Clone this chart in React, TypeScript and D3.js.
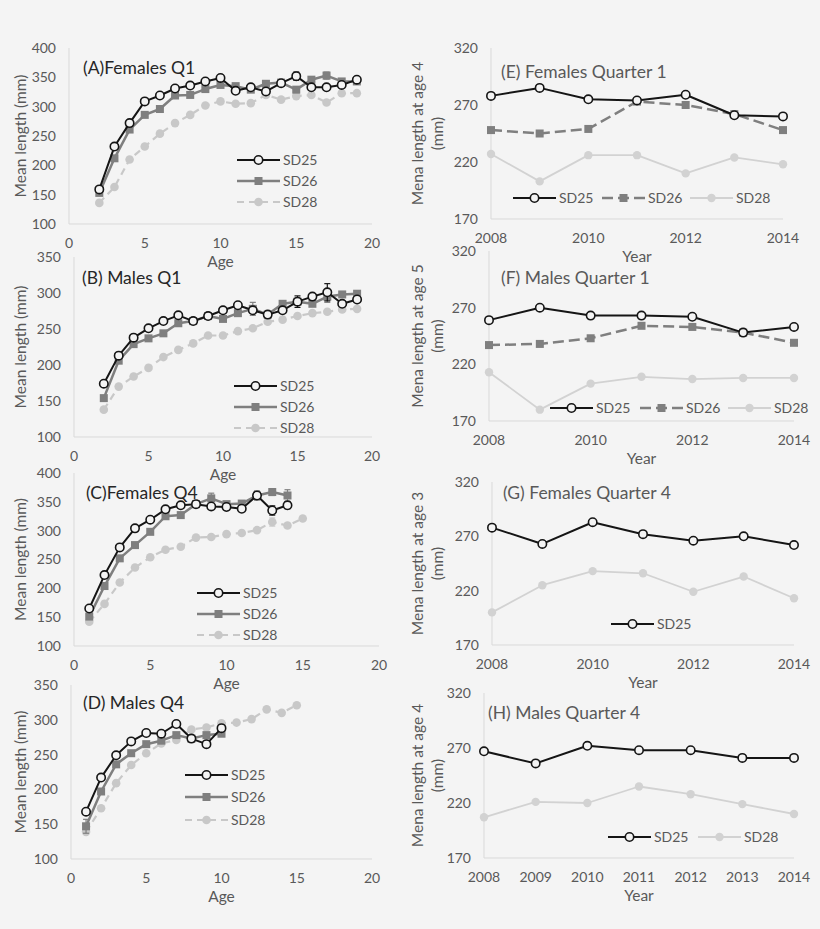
import React from 'react';
import * as d3 from 'd3';

// ---- data: mean length (mm) by age, panels A-D ----
const agesQ1 = [2, 3, 4, 5, 6, 7, 8, 9, 10, 11, 12, 13, 14, 15, 16, 17, 18, 19];
const a25 = [159, 232, 272, 309, 319, 331, 336, 343, 349, 327, 333, 326, 340, 352, 333, 333, 337, 346];
const a26 = [153, 212, 261, 286, 296, 319, 320, 330, 337, 335, 329, 339, 341, 329, 346, 353, 343, 343];
const a28 = [136, 163, 210, 232, 254, 272, 286, 302, 309, 305, 306, 320, 312, 318, 320, 307, 323, 323];

const b25 = [174, 213, 238, 251, 261, 269, 261, 268, 276, 283, 276, 270, 276, 288, 295, 301, 285, 291];
const b26 = [154, 206, 229, 237, 244, 258, 261, 268, 264, 272, 278, 270, 285, 288, 285, 295, 298, 299];
const b28 = [138, 170, 184, 196, 211, 221, 230, 241, 241, 247, 251, 260, 263, 268, 272, 274, 277, 278];

const agesC = [1, 2, 3, 4, 5, 6, 7, 8, 9, 10, 11, 12, 13, 14];
const agesC28 = [1, 2, 3, 4, 5, 6, 7, 8, 9, 10, 11, 12, 13, 14, 15];
const c25 = [165, 223, 271, 304, 319, 337, 344, 346, 342, 341, 338, 361, 335, 344];
const c26 = [151, 204, 252, 275, 298, 325, 327, 346, 356, 346, 347, 361, 367, 361];
const c28 = [142, 173, 210, 236, 254, 267, 272, 288, 289, 294, 296, 301, 315, 309, 321];

const agesD = [1, 2, 3, 4, 5, 6, 7, 8, 9, 10];
const agesD28 = [1, 2, 3, 4, 5, 6, 7, 8, 9, 10, 11, 12, 13, 14, 15];
const d25 = [168, 217, 249, 269, 281, 280, 294, 273, 265, 288];
const d26 = [147, 197, 236, 252, 265, 270, 278, 273, 278, 280];
const d28 = [139, 173, 209, 235, 252, 266, 271, 286, 289, 295, 296, 301, 315, 310, 321];

// error bars: [age, half-width]
const errA25 = [[15, 7]];
const errA26 = [[17, 6]];
const errB25 = [[15, 8], [17, 12]];
const errB26 = [[12, 9], [17, 8]];
const errC25 = [[13, 8], [14, 6]];
const errC26 = [[9, 9], [12, 8], [13, 6], [14, 10]];
const errC28 = [[13, 7]];
const errD26 = [[1, 10]];

// ---- data: mean length at age by year, panels E-H ----
const years = [2008, 2009, 2010, 2011, 2012, 2013, 2014];
const e25 = [278, 285, 275, 274, 279, 261, 260];
const e26 = [248, 245, 249, 273, 270, 262, 248];
const e28 = [227, 203, 226, 226, 210, 224, 218];
const f25 = [259, 270, 263, 263, 262, 248, 253];
const f26 = [237, 238, 243, 254, 253, 248, 239];
const f28 = [213, 180, 203, 209, 207, 208, 208];
const g25 = [278, 263, 283, 272, 266, 270, 262];
const g28 = [200, 225, 238, 236, 219, 233, 213];
const h25 = [267, 256, 272, 268, 268, 261, 261];
const h28 = [207, 221, 220, 235, 228, 219, 210];

const ageTicks = [0, 5, 10, 15, 20];
const yearTicks = [2008, 2010, 2012, 2014];
const ticks400 = [100, 150, 200, 250, 300, 350, 400];
const ticks350 = [100, 150, 200, 250, 300, 350];
const ticksYear = [170, 220, 270, 320];

const FONT = 'Lato, "Open Sans", sans-serif';
const GRAY_TEXT = '#595959';

const styles: Record<string, any> = {
  sd25: { stroke: '#151515', width: 2, marker: 'open', r: 4.2 },
  sd26: { stroke: '#7f7f7f', width: 2.5, marker: 'square', r: 4 },
  sd26d: { stroke: '#7f7f7f', width: 2.5, marker: 'square', r: 4, dash: '11,5' },
  sd28d: { stroke: '#c8c8c8', width: 2.2, marker: 'dot', r: 4.3, dash: '7,5' },
  sd28: { stroke: '#d2d2d2', width: 1.8, marker: 'dot', r: 4.2 },
};

function Marker({ cx, cy, st }: any) {
  if (st.marker === 'open')
    return <circle cx={cx} cy={cy} r={st.r} fill="#f4f4f4" stroke={st.stroke} strokeWidth={1.6} />;
  if (st.marker === 'square')
    return <rect x={cx - st.r} y={cy - st.r} width={st.r * 2} height={st.r * 2} fill={st.stroke} />;
  return <circle cx={cx} cy={cy} r={st.r} fill={st.stroke} />;
}

const panels = [
  {
    box: { x0: 69, x1: 372, y0: 48, y1: 224 }, xDomain: [0, 20], xTicks: ageTicks,
    yDomain: [100, 400], yTicks: ticks400, xTitle: 'Age', yTitle: ['Mean length (mm)'],
    title: '(A)Females Q1', tx: 83, ty: 74, titleColor: '#262626',
    series: [
      { name: 'SD28', xs: agesQ1, ys: a28, st: 'sd28d' },
      { name: 'SD26', xs: agesQ1, ys: a26, st: 'sd26', err: errA26 },
      { name: 'SD25', xs: agesQ1, ys: a25, st: 'sd25', err: errA25 },
    ],
    legend: [
      { name: 'SD25', st: 'sd25', x: 237, y: 160 },
      { name: 'SD26', st: 'sd26', x: 237, y: 181 },
      { name: 'SD28', st: 'sd28d', x: 237, y: 202 },
    ],
  },
  {
    box: { x0: 74, x1: 372, y0: 257, y1: 437 }, xDomain: [0, 20], xTicks: ageTicks,
    yDomain: [100, 350], yTicks: ticks350, xTitle: 'Age', yTitle: ['Mean length (mm)'],
    title: '(B) Males Q1', tx: 82, ty: 284, titleColor: '#262626',
    series: [
      { name: 'SD28', xs: agesQ1, ys: b28, st: 'sd28d' },
      { name: 'SD26', xs: agesQ1, ys: b26, st: 'sd26', err: errB26 },
      { name: 'SD25', xs: agesQ1, ys: b25, st: 'sd25', err: errB25 },
    ],
    legend: [
      { name: 'SD25', st: 'sd25', x: 234, y: 386 },
      { name: 'SD26', st: 'sd26', x: 234, y: 407 },
      { name: 'SD28', st: 'sd28d', x: 234, y: 428 },
    ],
  },
  {
    box: { x0: 74, x1: 379, y0: 473, y1: 646 }, xDomain: [0, 20], xTicks: ageTicks,
    yDomain: [100, 400], yTicks: ticks400, xTitle: 'Age', yTitle: ['Mean length (mm)'],
    title: '(C)Females Q4', tx: 86, ty: 499, titleColor: '#262626',
    series: [
      { name: 'SD28', xs: agesC28, ys: c28, st: 'sd28d', err: errC28 },
      { name: 'SD26', xs: agesC, ys: c26, st: 'sd26', err: errC26 },
      { name: 'SD25', xs: agesC, ys: c25, st: 'sd25', err: errC25 },
    ],
    legend: [
      { name: 'SD25', st: 'sd25', x: 197, y: 593 },
      { name: 'SD26', st: 'sd26', x: 197, y: 614 },
      { name: 'SD28', st: 'sd28d', x: 197, y: 635 },
    ],
  },
  {
    box: { x0: 71, x1: 372, y0: 685, y1: 859 }, xDomain: [0, 20], xTicks: ageTicks,
    yDomain: [100, 350], yTicks: ticks350, xTitle: 'Age', yTitle: ['Mean length (mm)'],
    title: '(D) Males Q4', tx: 83, ty: 709, titleColor: '#262626',
    series: [
      { name: 'SD28', xs: agesD28, ys: d28, st: 'sd28d' },
      { name: 'SD26', xs: agesD, ys: d26, st: 'sd26', err: errD26 },
      { name: 'SD25', xs: agesD, ys: d25, st: 'sd25' },
    ],
    legend: [
      { name: 'SD25', st: 'sd25', x: 185, y: 775 },
      { name: 'SD26', st: 'sd26', x: 185, y: 797 },
      { name: 'SD28', st: 'sd28d', x: 185, y: 820 },
    ],
  },
  {
    box: { x0: 491, x1: 783, y0: 48, y1: 219 }, xDomain: [2008, 2014], xTicks: yearTicks,
    yDomain: [170, 320], yTicks: ticksYear, xTitle: 'Year', yTitle: ['Mena length at age 4', '(mm)'],
    title: '(E) Females Quarter 1', tx: 501, ty: 78, titleColor: GRAY_TEXT,
    series: [
      { name: 'SD28', xs: years, ys: e28, st: 'sd28' },
      { name: 'SD26', xs: years, ys: e26, st: 'sd26d' },
      { name: 'SD25', xs: years, ys: e25, st: 'sd25' },
    ],
    legend: [
      { name: 'SD25', st: 'sd25', x: 513, y: 198 },
      { name: 'SD26', st: 'sd26d', x: 602, y: 198 },
      { name: 'SD28', st: 'sd28', x: 690, y: 198 },
    ],
  },
  {
    box: { x0: 489, x1: 794, y0: 251, y1: 421 }, xDomain: [2008, 2014], xTicks: yearTicks,
    yDomain: [170, 320], yTicks: ticksYear, xTitle: 'Year', yTitle: ['Mena length at age 5', '(mm)'],
    title: '(F) Males Quarter 1', tx: 501, ty: 284, titleColor: GRAY_TEXT,
    series: [
      { name: 'SD28', xs: years, ys: f28, st: 'sd28' },
      { name: 'SD26', xs: years, ys: f26, st: 'sd26d' },
      { name: 'SD25', xs: years, ys: f25, st: 'sd25' },
    ],
    legend: [
      { name: 'SD25', st: 'sd25', x: 550, y: 408 },
      { name: 'SD26', st: 'sd26d', x: 640, y: 408 },
      { name: 'SD28', st: 'sd28', x: 728, y: 408 },
    ],
  },
  {
    box: { x0: 492, x1: 794, y0: 482, y1: 645 }, xDomain: [2008, 2014], xTicks: yearTicks,
    yDomain: [170, 320], yTicks: ticksYear, xTitle: 'Year', yTitle: ['Mena length at age 3', '(mm)'],
    title: '(G) Females Quarter 4', tx: 503, ty: 499, titleColor: GRAY_TEXT,
    series: [
      { name: 'SD28', xs: years, ys: g28, st: 'sd28' },
      { name: 'SD25', xs: years, ys: g25, st: 'sd25' },
    ],
    legend: [{ name: 'SD25', st: 'sd25', x: 611, y: 624 }],
  },
  {
    box: { x0: 484, x1: 794, y0: 693, y1: 858 }, xDomain: [2008, 2014], xTicks: years,
    yDomain: [170, 320], yTicks: ticksYear, xTitle: 'Year', yTitle: ['Mena length at age 4', '(mm)'],
    title: '(H) Males Quarter 4', tx: 488, ty: 719, titleColor: GRAY_TEXT,
    series: [
      { name: 'SD28', xs: years, ys: h28, st: 'sd28' },
      { name: 'SD25', xs: years, ys: h25, st: 'sd25' },
    ],
    legend: [
      { name: 'SD25', st: 'sd25', x: 608, y: 837 },
      { name: 'SD28', st: 'sd28', x: 698, y: 837 },
    ],
  },
];

function Panel({ p }: any) {
  const { box } = p;
  const x = d3.scaleLinear().domain(p.xDomain).range([box.x0, box.x1]);
  const y = d3.scaleLinear().domain(p.yDomain).range([box.y1, box.y0]);
  const line = d3.line<[number, number]>().x(d => x(d[0])).y(d => y(d[1]));
  const right = p.yTitle.length > 1;
  const midY = (box.y0 + box.y1) / 2;
  return (
    <g fontFamily={FONT}>
      {/* axes */}
      <line x1={box.x0} x2={box.x0} y1={box.y0} y2={box.y1} stroke="#d9d9d9" strokeWidth={1} />
      <line x1={box.x0} x2={box.x1} y1={box.y1} y2={box.y1} stroke="#d9d9d9" strokeWidth={1} />
      {p.yTicks.map((t: number) => (
        <text key={'y' + t} x={box.x0 - 13} y={y(t)} dy="0.35em" textAnchor="end" fontSize={14} fill={GRAY_TEXT}>{t}</text>
      ))}
      {p.xTicks.map((t: number) => (
        <text key={'x' + t} x={x(t)} y={box.y1 + 19} dy="0.35em" textAnchor="middle" fontSize={14} fill={GRAY_TEXT}>{t}</text>
      ))}
      <text x={(box.x0 + box.x1) / 2} y={box.y1 + 38} dy="0.35em" textAnchor="middle" fontSize={15.5} fill={GRAY_TEXT}>{p.xTitle}</text>
      {p.yTitle.map((s: string, i: number) => {
        const tx = right ? 418 + i * 20 : 21;
        return (
          <text key={s} transform={`translate(${tx},${midY}) rotate(-90)`} dy="0.35em" textAnchor="middle" fontSize={15.5} fill={GRAY_TEXT}>{s}</text>
        );
      })}
      <text x={p.tx} y={p.ty} fontSize={17.5} fill={p.titleColor}>{p.title}</text>
      {/* series */}
      {p.series.map((s: any) => {
        const st = styles[s.st];
        const pts: [number, number][] = s.xs.map((v: number, i: number) => [v, s.ys[i]]);
        return (
          <g key={s.name}>
            {(s.err || []).map(([a, e]: number[]) => {
              const v = s.ys[s.xs.indexOf(a)];
              return (
                <g key={a} stroke={st.stroke} strokeWidth={1.2}>
                  <line x1={x(a)} x2={x(a)} y1={y(v - e)} y2={y(v + e)} />
                  <line x1={x(a) - 3} x2={x(a) + 3} y1={y(v - e)} y2={y(v - e)} />
                  <line x1={x(a) - 3} x2={x(a) + 3} y1={y(v + e)} y2={y(v + e)} />
                </g>
              );
            })}
            <path d={line(pts) || ''} fill="none" stroke={st.stroke} strokeWidth={st.width} strokeDasharray={st.dash} strokeLinejoin="round" />
            {pts.map((d, i) => (
              <Marker key={i} cx={x(d[0])} cy={y(d[1])} st={st} />
            ))}
          </g>
        );
      })}
      {/* legend */}
      {p.legend.map((l: any) => {
        const st = styles[l.st];
        return (
          <g key={l.name}>
            <line x1={l.x} x2={l.x + 43} y1={l.y} y2={l.y} stroke={st.stroke} strokeWidth={st.width} strokeDasharray={st.dash} />
            <Marker cx={l.x + 21.5} cy={l.y} st={st} />
            <text x={l.x + 46} y={l.y} dy="0.35em" fontSize={14} fill={GRAY_TEXT}>{l.name}</text>
          </g>
        );
      })}
    </g>
  );
}

export default function App() {
  return (
    <svg width={820} height={929} style={{ position: 'absolute', left: 0, top: 0 }}>
      <rect width={820} height={929} fill="#f4f4f4" />
      {panels.map((p, i) => (
        <Panel key={i} p={p} />
      ))}
    </svg>
  );
}
